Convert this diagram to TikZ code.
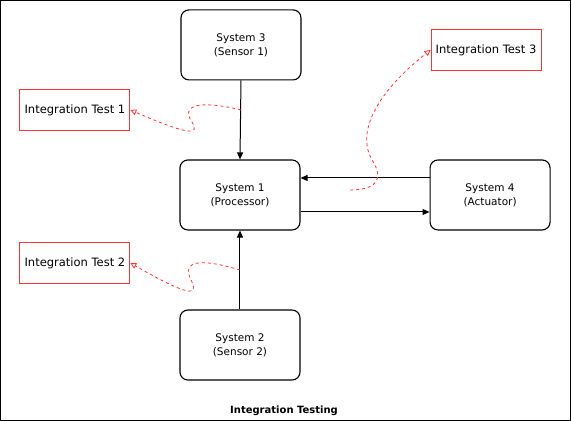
\documentclass[tikz,border=0pt]{standalone}
\usepackage{fontspec}
\setmainfont{DejaVu Sans}
\usetikzlibrary{arrows.meta}
\definecolor{itred}{HTML}{FF3333}
\begin{document}
\begin{tikzpicture}[x=1pt,y=-1pt,
  sysbox/.style={draw=black,line width=1.1pt,rounded corners=8pt,minimum width=120pt,minimum height=70pt,align=center,font=\fontsize{10.5}{14}\selectfont},
  itbox/.style={draw=itred,line width=0.9pt,minimum width=110pt,minimum height=41pt,inner xsep=1pt,align=center,font=\fontsize{11.5}{13}\selectfont},
  flow/.style={draw=black,line width=1pt,-{Triangle[length=7pt,width=6pt]}},
  itlink/.style={draw=itred,line width=0.8pt,dashed,-{Triangle[open,length=6pt,width=6pt]}}]
\draw[line width=0.8pt] (0.5,0.5) rectangle (570.5,420.5);
\node[sysbox] (s3) at (241,45) {System 3\\(Sensor 1)};
\node[sysbox] (s1) at (240,195) {System 1\\(Processor)};
\node[sysbox] (s2) at (240,345) {System 2\\(Sensor 2)};
\node[sysbox] (s4) at (490,195) {System 4\\(Actuator)};
\node[itbox] (it1) at (75,110) {Integration Test 1};
\node[itbox] (it2) at (75,263) {Integration Test 2};
\node[itbox] (it3) at (486,50) {Integration Test 3};
\node[font=\bfseries\fontsize{10}{12}\selectfont] (title) at (284,411) {Integration Testing};
\draw[flow] (s3.south) -- (s1.north);
\draw[flow] (s2.north) -- (s1.south);
\draw[flow] (s4.west|-240,178) -- (s1.east|-240,178);
\draw[flow] (s1.east|-240,212) -- (s4.west|-240,212);
\coordinate (c1) at (241,110);
\coordinate (c2) at (240,270);
\coordinate (c3) at (350,190);
\draw[itlink] (c1) .. controls (200,100) and (180,105) .. (192,122) .. controls (200,135) and (190,136) .. (it1.east);
\draw[itlink] (c2) .. controls (200,258) and (180,260) .. (192,282) .. controls (198,296) and (188,296) .. (it2.east);
\draw[itlink] (c3) .. controls (375,190) and (385,180) .. (372,160) .. controls (355,130) and (380,90) .. (it3.west);
\end{tikzpicture}
\end{document}
